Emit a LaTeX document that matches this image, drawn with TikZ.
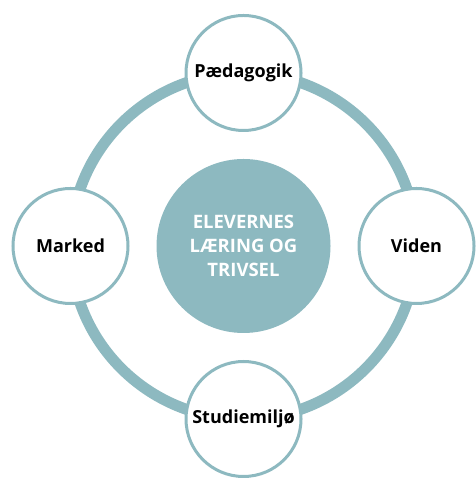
\documentclass[tikz,border=0pt]{standalone}
\usepackage{fontspec}
\setmainfont{Open Sans}
\usetikzlibrary{calc}
\definecolor{ringc}{HTML}{8DB9C0}
\begin{document}
\begin{tikzpicture}[x=1pt,y=1pt,
  sat/.style={circle, draw=ringc, line width=3pt, fill=white, minimum size=115pt, inner sep=0pt,
    font=\fontsize{18}{21}\selectfont\bfseries, text=black},
  core/.style={circle, fill=ringc, minimum size=174pt, inner sep=0pt, align=center,
    font=\fontsize{18.5}{24}\selectfont\bfseries, text=white},
  ringline/.style={draw=ringc, line width=11pt}]
\useasboundingbox (0,0) rectangle (475,478);
\coordinate (c) at (243.5,232);
\draw[ringline] (c) circle (173);
\node[core] (core) at (c) {\textbf{ELEVERNES}\\\textbf{LÆRING OG}\\\textbf{TRIVSEL}};
\node[sat] (top) at ($(c)+(0,173)$) {Pædagogik};
\node[sat] (bottom) at ($(c)+(0,-173)$) {Studiemiljø};
\node[sat] (left) at ($(c)+(-173,0)$) {Marked};
\node[sat] (right) at ($(c)+(173,0)$) {Viden};
\end{tikzpicture}
\end{document}
